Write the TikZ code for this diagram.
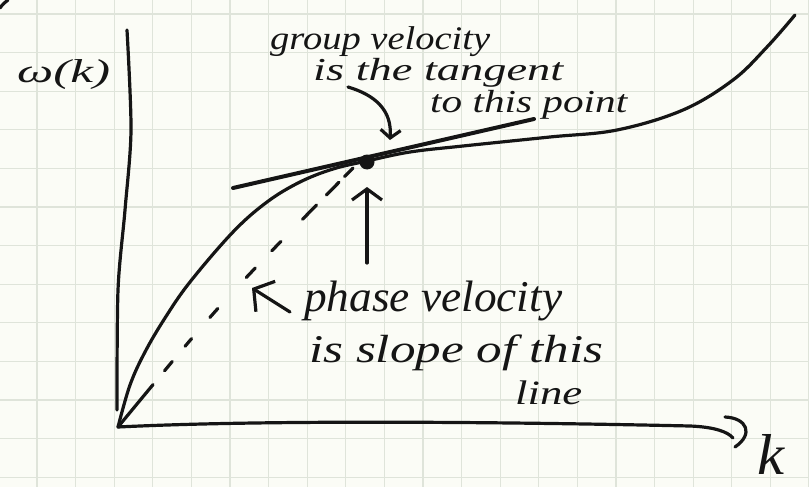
\documentclass[tikz,border=0pt]{standalone}
\usepackage{fontspec}
\setmainfont{Liberation Serif}
\usepackage{graphicx}
\usetikzlibrary{arrows.meta}
\definecolor{paper}{HTML}{FBFCF6}
\definecolor{gridc}{HTML}{DFE4DA}
\definecolor{ink}{HTML}{151515}
% width, total height (height+depth), text
\newcommand{\hwtext}[3]{\resizebox*{#1}{#2}{\itshape #3}}
\begin{document}
\begin{tikzpicture}[x=1pt,y=-1pt,
  pen/.style={draw=ink,line width=3.2pt,line cap=round,line join=round},
  lbl/.style={inner sep=0pt,text=ink,anchor=base west},
  gridline/.style={draw=gridc,line width=1.2pt}]
\fill[paper] (0,0) rectangle (809,487);
\useasboundingbox (0,0) rectangle (809,487);
% graph paper
\foreach \k in {0,...,20} \draw[gridline] ({37+38.6*\k},0) -- ({37+38.6*\k},487);
\foreach \k in {0,...,12} \draw[gridline] (0,{14+38.6*\k}) -- (809,{14+38.6*\k});
% named points
\coordinate (O) at (118,427);
\coordinate (Xend) at (733,438);
\coordinate (T1) at (233,188);
\coordinate (T2) at (534,119);
\coordinate (D) at (353,168);
\coordinate (ga) at (348,87);
\coordinate (gb) at (390,140);
\coordinate (va) at (367,263);
\coordinate (vb) at (367,187);
\coordinate (pa) at (290,312);
\coordinate (pb) at (252,288);
% axes
\draw[pen] plot[smooth] coordinates {(127,30) (131,130) (125,210) (118,290) (117,410)};
\draw[pen] (O) .. controls (300,418) and (600,424) .. (690,426) .. controls (715,427) and (728,432) .. (Xend);
\draw[pen] (725,417) .. controls (747,418) and (754,434) .. (735,447);
% dispersion curve
\draw[pen] plot[smooth, tension=0.6] coordinates {(118,427) (130,385) (145,352) (165,318) (190,282) (233,232) (267,202) (300,182) (333,169) (367,161) (410,152) (463,146) (550,137) (617,130) (683,110) (733,80) (767,47) (795,15)};
% tangent line
\draw[pen, line width=4pt] (T1) -- (T2);
% dashed chord
\draw[pen, dash pattern=on 55pt off 18pt on 12pt off 20pt on 10pt off 28pt on 12pt off 42pt on 13pt off 24pt on 13pt off 31pt on 20pt off 14pt on 18pt off 8pt on 14pt off 60pt] (O) .. controls (222,301) .. (D);
% point
\node[circle, fill=ink, minimum size=15pt, inner sep=0pt] (P) at (367,162) {};
% arrows
\draw[pen, -{Straight Barb[length=8pt,width=20pt]}] (ga) .. controls (375,95) and (392,110) .. (gb);
\draw[pen, -{Straight Barb[length=11pt,width=30pt]}] (va) -- (vb);
\draw[pen, -{Straight Barb[length=14pt,width=36pt]}] (pa) -- (pb);
% corner mark
\draw[pen] (0,8) .. controls (3,4) .. (8,0);
% labels
\node[lbl] (w) at (17,82) {\hwtext{93pt}{30pt}{ω(k)}};
\node[lbl] (g1) at (270,50) {\hwtext{220pt}{30pt}{group velocity}};
\node[lbl] (g2) at (313,81) {\hwtext{250pt}{29pt}{is the tangent}};
\node[lbl] (g3) at (430,112) {\hwtext{197pt}{29pt}{to this point}};
\node[lbl] (p1) at (304,311) {\hwtext{258pt}{40pt}{phase velocity}};
\node[lbl] (p2) at (309,362) {\hwtext{294pt}{36pt}{is slope of this}};
\node[lbl] (p3) at (515,404) {\hwtext{67pt}{24pt}{line}};
\node[lbl] (klab) at (757,474) {\hwtext{27pt}{40pt}{k}};
\end{tikzpicture}
\end{document}
